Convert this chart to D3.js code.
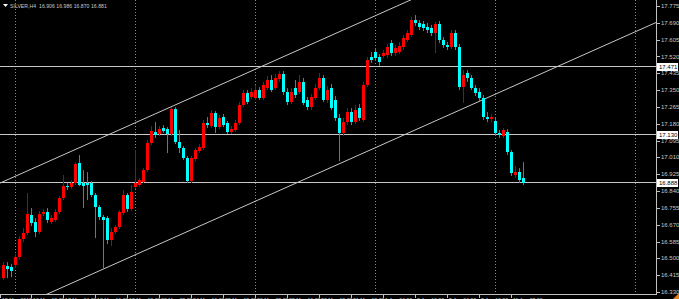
<!DOCTYPE html>
<html>
<head>
<meta charset="utf-8">
<script src="https://cdn.jsdelivr.net/npm/d3@7"></script>
<style>
body{margin:0;background:#000;overflow:hidden}
svg{display:block}
</style>
</head>
<body>
<svg id="chart" width="679" height="299"></svg>
<script>
// SILVER H4 candles (bar 0 = 15 May 2017)
let opens = [
16.400,16.461,16.456,16.466,16.506,16.597,16.628,16.719,16.683,16.633,
16.724,16.734,16.683,16.693,16.734,16.805,16.865,16.860,16.880,16.981,
16.880,16.880,16.880,16.820,16.759,16.709,16.703,16.592,16.633,16.658,
16.729,16.820,16.749,16.860,16.870,16.885,16.946,17.082,17.138,17.128,
17.158,17.153,17.128,17.254,17.087,17.057,17.007,16.890,17.002,17.042,
17.057,17.183,17.168,17.234,17.163,17.214,17.183,17.138,17.148,17.183,
17.274,17.335,17.315,17.310,17.350,17.310,17.360,17.401,17.360,17.406,
17.431,17.340,17.290,17.360,17.340,17.391,17.300,17.264,17.310,17.360,
17.411,17.300,17.360,17.300,17.209,17.133,17.188,17.239,17.188,17.259,
17.199,17.376,17.517,17.542,17.517,17.522,17.527,17.588,17.537,17.542,
17.568,17.603,17.628,17.704,17.689,17.684,17.669,17.664,17.638,17.684,
17.603,17.578,17.568,17.638,17.568,17.365,17.436,17.411,17.360,17.340,
17.310,17.214,17.204,17.194,17.133,17.118,17.138,17.037,16.921,16.936,
16.906]
let highs = [
16.481,16.481,16.471,16.522,16.613,16.653,16.830,16.754,16.703,16.739,
16.749,16.754,16.719,16.749,16.815,16.921,16.880,16.895,16.986,17.022,
16.946,16.936,16.890,16.830,16.769,16.719,16.714,16.653,16.668,16.744,
16.845,16.830,16.870,17.047,16.906,16.956,17.098,17.168,17.188,17.168,
17.173,17.163,17.264,17.264,17.148,17.067,17.017,17.017,17.057,17.077,
17.199,17.214,17.249,17.244,17.224,17.229,17.194,17.168,17.199,17.290,
17.350,17.350,17.360,17.376,17.365,17.391,17.421,17.426,17.431,17.446,
17.446,17.360,17.360,17.401,17.426,17.411,17.315,17.330,17.381,17.436,
17.426,17.370,17.381,17.320,17.229,17.209,17.259,17.259,17.274,17.279,
17.391,17.517,17.542,17.563,17.532,17.552,17.583,17.603,17.578,17.593,
17.628,17.653,17.719,17.729,17.704,17.699,17.689,17.679,17.694,17.699,
17.618,17.593,17.653,17.653,17.583,17.451,17.451,17.426,17.376,17.360,
17.325,17.239,17.229,17.209,17.148,17.158,17.153,17.047,16.966,16.956,
16.986]
let lows = [
16.390,16.400,16.405,16.451,16.496,16.582,16.618,16.663,16.607,16.623,
16.714,16.678,16.673,16.683,16.724,16.794,16.845,16.850,16.870,16.865,
16.754,16.794,16.810,16.602,16.693,16.451,16.572,16.562,16.623,16.648,
16.719,16.734,16.739,16.850,16.860,16.880,16.936,17.072,17.108,17.118,
17.133,17.032,17.118,17.077,17.032,16.997,16.880,16.880,16.991,17.032,
17.047,17.158,17.158,17.133,17.153,17.163,17.128,17.128,17.138,17.173,
17.264,17.279,17.305,17.300,17.300,17.300,17.350,17.340,17.350,17.391,
17.325,17.274,17.279,17.310,17.330,17.274,17.249,17.249,17.300,17.350,
17.290,17.285,17.249,17.194,16.991,17.118,17.173,17.173,17.178,17.194,
17.188,17.365,17.487,17.497,17.472,17.512,17.512,17.522,17.522,17.532,
17.552,17.593,17.618,17.674,17.653,17.648,17.638,17.623,17.537,17.588,
17.563,17.552,17.557,17.552,17.350,17.285,17.391,17.350,17.320,17.295,
17.199,17.188,17.188,17.118,17.108,17.108,17.022,16.916,16.906,16.880,
16.870]
let closes = [
16.466,16.446,16.436,16.506,16.597,16.628,16.724,16.678,16.633,16.724,
16.734,16.693,16.703,16.734,16.805,16.865,16.860,16.880,16.976,16.870,
16.865,16.870,16.820,16.759,16.709,16.693,16.592,16.633,16.658,16.734,
16.820,16.749,16.835,16.880,16.895,16.946,17.082,17.143,17.123,17.153,
17.143,17.128,17.254,17.087,17.057,17.007,16.890,17.007,17.047,17.062,
17.183,17.173,17.234,17.163,17.209,17.173,17.138,17.153,17.183,17.274,
17.335,17.290,17.340,17.350,17.310,17.376,17.401,17.350,17.411,17.431,
17.340,17.290,17.340,17.325,17.391,17.285,17.264,17.315,17.360,17.411,
17.300,17.350,17.259,17.209,17.133,17.188,17.239,17.188,17.249,17.209,
17.376,17.502,17.502,17.512,17.492,17.537,17.568,17.537,17.563,17.573,
17.613,17.638,17.704,17.689,17.669,17.664,17.653,17.638,17.684,17.603,
17.578,17.568,17.638,17.568,17.365,17.426,17.411,17.360,17.335,17.310,
17.214,17.204,17.214,17.133,17.123,17.148,17.037,16.931,16.936,16.895,
16.881]

let priceTicks = [16.330,16.415,16.500,16.585,16.670,16.755,16.840,16.925,17.010,
                  17.095,17.180,17.265,17.350,17.435,17.520,17.605,17.690,17.775]
let levelLines = [17.471, 17.130, 16.888]

let timeLabels = ["15 May 2017","16 May 12:00","17 May 04:00","18 May 16:00","19 May 12:00",
                  "22 May 08:00","24 May 16:00","25 May 12:00","26 May 08:00","29 May 16:00",
                  "30 May 12:00","31 May 12:00","1 Jun 04:00","2 Jun 16:00","5 Jun 04:00",
                  "8 Jun 16:00","11 Jun 23:00"]
let timeLabelBars = [-0.75,7,15,23,31,39,47,55,63,71,79,87,95,103,111,119,127]
let gridBars = [3,33,63,93,123,158]

// channel lines: [bar, price] anchors
let channelUpper = [[0,16.887],[100,17.788]]
let channelLower = [[0,16.220],[160,17.662]]

let header = "SILVER,H4  16.906 16.986 16.870 16.881"

let plotW = 656, plotH = 294
let svg = d3.select("#chart")
svg.append("rect").attr("width",679).attr("height",299).attr("fill","#000")

let x = d3.scaleLinear().domain([0,130]).range([3,523])
let y = d3.scaleLinear().domain([16.320,17.805]).range([plotH,0])

svg.append("clipPath").attr("id","plotClip")
    .append("rect").attr("width",plotW).attr("height",plotH)
let plot = svg.append("g").attr("clip-path","url(#plotClip)")

//weekly dotted grid
plot.selectAll(".grid").data(gridBars).enter().append("line")
    .attr("x1",d=>Math.round(x(d))+0.5).attr("x2",d=>Math.round(x(d))+0.5)
    .attr("y1",0).attr("y2",plotH)
    .attr("stroke","#8a8a8a").attr("stroke-width",1).attr("stroke-dasharray","1,2")

//horizontal levels
plot.selectAll(".level").data(levelLines).enter().append("line")
    .attr("x1",0).attr("x2",plotW)
    .attr("y1",d=>Math.round(y(d))+0.5).attr("y2",d=>Math.round(y(d))+0.5)
    .attr("stroke","#c8c8c8").attr("stroke-width",1.2)

//channel
function chanLine(a){
    let slope = (a[1][1]-a[0][1])/(a[1][0]-a[0][0])
    let b0 = -5, b1 = 170
    return [[b0, a[0][1]+slope*(b0-a[0][0])],[b1, a[0][1]+slope*(b1-a[0][0])]]
}
let line = d3.line().x(d=>x(d[0])).y(d=>y(d[1]))
;[channelUpper, channelLower].forEach(function(c){
    plot.append("path").attr("d",line(chanLine(c)))
        .attr("fill","none").attr("stroke","#c8c8c8").attr("stroke-width",1)
})

//candles
let bars = d3.range(opens.length)
let candle = plot.selectAll(".candle").data(bars).enter().append("g")
candle.append("line")
    .attr("x1",i=>x(i)+0.5).attr("x2",i=>x(i)+0.5)
    .attr("y1",i=>y(highs[i])).attr("y2",i=>y(lows[i]))
    .attr("stroke",i=>closes[i]>=opens[i] ? "#b40000" : "#00a5a5")
    .attr("stroke-width",1)
candle.append("rect")
    .attr("x",i=>x(i)-1).attr("width",3)
    .attr("y",i=>Math.round(y(Math.max(opens[i],closes[i]))))
    .attr("height",i=>Math.max(1,Math.round(Math.abs(y(opens[i])-y(closes[i])))))
    .attr("fill",i=>closes[i]>=opens[i] ? "#ff0000" : "#00ffff")
    .attr("shape-rendering","crispEdges")

//axes frame
svg.append("line").attr("x1",plotW+0.5).attr("x2",plotW+0.5).attr("y1",0).attr("y2",plotH+1)
    .attr("stroke","#c0c0c0")
svg.append("line").attr("x1",0).attr("x2",plotW+1).attr("y1",plotH+0.5).attr("y2",plotH+0.5)
    .attr("stroke","#c0c0c0")

let font = "'Liberation Sans', Arial, sans-serif"

//price axis
let py = svg.append("g")
py.selectAll(".pt").data(priceTicks).enter().append("line")
    .attr("x1",plotW+1).attr("x2",plotW+4)
    .attr("y1",d=>Math.round(y(d))+0.5).attr("y2",d=>Math.round(y(d))+0.5)
    .attr("stroke","#c0c0c0")
py.selectAll(".pl").data(priceTicks).enter().append("text")
    .attr("x",plotW+5).attr("y",d=>y(d)).attr("dy","0.35em")
    .attr("fill","#c8c8c8").attr("font-family",font).attr("font-size","6px")
    .text(d=>d.toFixed(3))

//price boxes for level lines
let lb = svg.append("g")
lb.selectAll("rect").data(levelLines).enter().append("rect")
    .attr("x",plotW+1).attr("width",21)
    .attr("y",d=>Math.round(y(d))-3).attr("height",8)
    .attr("fill","#ffffff")
lb.selectAll("text").data(levelLines).enter().append("text")
    .attr("x",plotW+3).attr("y",d=>Math.round(y(d))+1).attr("dy","0.35em")
    .attr("fill","#000").attr("font-family",font).attr("font-size","6px")
    .text(d=>d.toFixed(3))

//time axis
let tx = svg.append("g")
tx.selectAll("line").data(timeLabelBars).enter().append("line")
    .attr("x1",d=>Math.max(0,Math.round(x(d)))+0.5).attr("x2",d=>Math.max(0,Math.round(x(d)))+0.5)
    .attr("y1",plotH).attr("y2",plotH+4)
    .attr("stroke","#c0c0c0")
tx.selectAll("text").data(timeLabels).enter().append("text")
    .attr("x",(d,i)=>Math.max(0,Math.round(x(timeLabelBars[i])))+2)
    .attr("y",plotH+7.5)
    .attr("fill","#c8c8c8").attr("font-family",font).attr("font-size","5.2px")
    .text(d=>d)

//header
svg.append("path").attr("d","M3,4 L8,4 L5.5,7 Z").attr("fill","#ffffff")
svg.append("text").attr("x",10).attr("y",8)
    .attr("fill","#c8c8c8").attr("font-family",font).attr("font-size","5.2px")
    .style("white-space","pre")
    .text(header)

//chart shift marker
svg.append("path").attr("d","M679,293 L679,299 L673,299 Z").attr("fill","#e08020")
</script>
</body>
</html>
